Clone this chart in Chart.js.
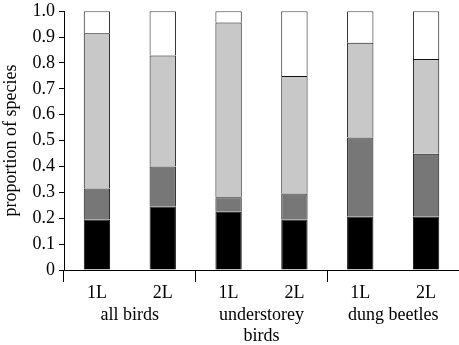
<!DOCTYPE html>
<html>
<head>
<meta charset="utf-8">
<script src="https://cdn.jsdelivr.net/npm/chart.js@4/dist/chart.umd.min.js"></script>
<style>
  body { margin: 0; background: #fff; }
  #wrap { width: 459px; height: 345px; }
</style>
</head>
<body>
<div id="wrap"><canvas id="chart"></canvas></div>
<script>
const categories = ['1L', '2L', '1L', '2L', '1L', '2L'];
const groups = ['all birds', ['understorey', 'birds'], 'dung beetles'];
const yTicks = [0, 0.1, 0.2, 0.3, 0.4, 0.5, 0.6, 0.7, 0.8, 0.9, 1.0];

// stacked segments, bottom to top
const seg1 = [0.195, 0.245, 0.225, 0.195, 0.207, 0.207]; // black
const seg2 = [0.120, 0.155, 0.056, 0.101, 0.305, 0.242]; // dark grey
const seg3 = [0.600, 0.429, 0.675, 0.454, 0.366, 0.366]; // light grey
const seg4 = [0.085, 0.171, 0.044, 0.250, 0.122, 0.185]; // white

const serif = 'Liberation Serif';
const fs = 18;

function ds(data, color) {
  return {
    data: data,
    backgroundColor: color,
    borderColor: '#111',
    borderWidth: 1,
    categoryPercentage: 1,
    barPercentage: 0.4
  };
}

new Chart(document.getElementById('chart'), {
  type: 'bar',
  data: {
    labels: categories,
    datasets: [
      ds(seg1, '#000000'),
      ds(seg2, '#777777'),
      ds(seg3, '#c8c8c8'),
      ds(seg4, '#ffffff')
    ]
  },
  options: {
    responsive: true,
    maintainAspectRatio: false,
    animation: false,
    layout: { padding: 0 },
    plugins: { legend: { display: false }, tooltip: { enabled: false } },
    scales: {
      x: {
        stacked: true,
        grid: {
          offset: true,
          drawOnChartArea: false,
          tickLength: 12,
          color: ctx => (ctx.index === undefined || ctx.index % 2 === 0) ? '#000' : 'rgba(0,0,0,0)'
        },
        border: { color: '#000', width: 1 },
        ticks: { color: '#000', font: { family: serif, size: fs }, padding: 0 },
        afterFit: s => { s.height = 34; }
      },
      x2: {
        type: 'category',
        position: 'bottom',
        labels: groups,
        offset: true,
        grid: { display: false, drawTicks: false },
        border: { display: false },
        ticks: { color: '#000', font: { family: serif, size: fs, lineHeight: 1.15 }, padding: 1 },
        afterFit: s => { s.height = 41; }
      },
      y: {
        stacked: true,
        min: 0,
        max: 1,
        grid: { drawOnChartArea: false, tickLength: 5, color: '#000' },
        border: { color: '#000', width: 1 },
        afterBuildTicks: s => { s.ticks = yTicks.map(v => ({ value: v })); },
        ticks: {
          color: '#000',
          font: { family: serif, size: fs, lineHeight: 0.8 },
          padding: 4,
          callback: v => v === 0 ? '0' : v.toFixed(1)
        },
        title: {
          display: true,
          text: 'proportion of species',
          color: '#000',
          font: { family: serif, size: fs },
          padding: 0
        },
        afterFit: s => { s.width = 64; }
      }
    }
  }
});
</script>
</body>
</html>
